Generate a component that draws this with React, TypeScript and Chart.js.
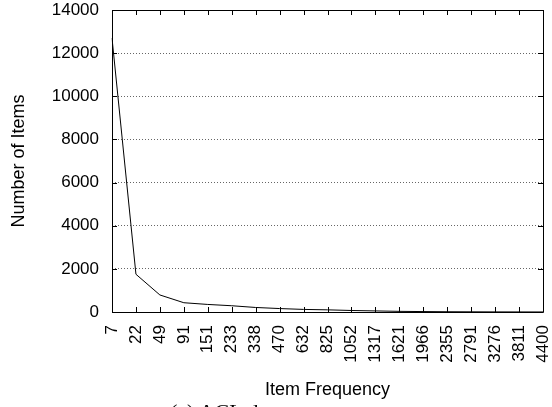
import React, { useEffect, useRef } from "react";
import { Chart, registerables } from "chart.js";

Chart.register(...registerables);

const categories = ["7", "22", "49", "91", "151", "233", "338", "470", "632", "825", "1052", "1317", "1621", "1966", "2355", "2791", "3276", "3811", "4400"];
const itemCounts = [12700, 1750, 790, 430, 350, 290, 210, 160, 120, 100, 70, 50, 30, 20, 12, 8, 5, 3, 2];
const yTicks = [0, 2000, 4000, 6000, 8000, 10000, 12000, 14000];
const xTitle = "Item Frequency";
const yTitle = "Number of Items";
const caption = "(a) ACL dataset";

const FONT = "'Liberation Sans', Arial, Helvetica, sans-serif";

const framePlugin = {
  id: "frame",
  afterDraw(chart: any) {
    const { ctx, chartArea } = chart;
    const { left, right, top, bottom } = chartArea;
    const xs = chart.scales.x;
    const ys = chart.scales.y;
    const len = 5;
    ctx.save();
    ctx.strokeStyle = "#000";
    ctx.lineWidth = 1;
    ctx.setLineDash([]);
    ctx.beginPath();
    ctx.rect(Math.round(left) + 0.5, Math.round(top) + 0.5, Math.round(right - left), Math.round(bottom - top));
    ctx.stroke();
    ctx.beginPath();
    for (let i = 0; i < categories.length; i++) {
      const x = Math.round(xs.getPixelForValue(i)) + 0.5;
      ctx.moveTo(x, bottom);
      ctx.lineTo(x, bottom - len);
      ctx.moveTo(x, top);
      ctx.lineTo(x, top + len);
    }
    for (const v of yTicks) {
      const y = Math.round(ys.getPixelForValue(v)) + 0.5;
      ctx.moveTo(left, y);
      ctx.lineTo(left + len, y);
      ctx.moveTo(right, y);
      ctx.lineTo(right - len, y);
    }
    ctx.stroke();
    ctx.restore();
  },
};

export default function App() {
  const ref = useRef<HTMLCanvasElement>(null);
  useEffect(() => {
    if (!ref.current) return;
    const chart = new Chart(ref.current, {
      type: "line",
      data: {
        labels: categories,
        datasets: [
          {
            data: itemCounts,
            borderColor: "#000",
            borderWidth: 1,
            pointRadius: 0,
            tension: 0,
            fill: false,
          },
        ],
      },
      options: {
        animation: false,
        responsive: false,
        devicePixelRatio: 1,
        layout: { padding: { top: 10, right: 9, left: 0, bottom: 0 } },
        plugins: { legend: { display: false }, tooltip: { enabled: false } },
        scales: {
          x: {
            type: "category",
            offset: false,
            grid: { display: false, drawTicks: false },
            border: { display: false },
            ticks: {
              color: "#000",
              font: { family: FONT, size: 17 },
              minRotation: 90,
              maxRotation: 90,
              padding: 13,
              autoSkip: false,
            },
            title: {
              display: true,
              text: xTitle,
              color: "#000",
              font: { family: FONT, size: 18 },
              padding: { top: 0, bottom: 6 },
            },
            afterFit(scale: any) {
              scale.height = 95;
              scale.paddingLeft = 0;
              scale.paddingRight = 0;
            },
          },
          y: {
            min: 0,
            max: 14000,
            afterBuildTicks(scale: any) {
              scale.ticks = yTicks.map((v) => ({ value: v }));
            },
            grid: {
              drawTicks: false,
              color: (c: any) => (c.tick && (c.tick.value === 0 || c.tick.value === 14000) ? "rgba(0,0,0,0)" : "#666"),
              lineWidth: 1,
            },
            border: { display: false, dash: [1, 2] },
            ticks: {
              color: "#000",
              font: { family: FONT, size: 17 },
              padding: 13,
              callback: (v: any) => String(v),
            },
            title: {
              display: true,
              text: yTitle,
              color: "#000",
              font: { family: FONT, size: 18 },
              padding: { top: 8, bottom: 0 },
            },
            afterFit(scale: any) {
              scale.width = 112;
              scale.paddingTop = 0;
              scale.paddingBottom = 0;
            },
          },
        },
      },
      plugins: [framePlugin],
    } as any);
    return () => chart.destroy();
  }, []);
  return (
    <div style={{ position: "fixed", left: 0, top: 0, width: 552, height: 407, overflow: "hidden", background: "#fff" }}>
      <canvas ref={ref} width={552} height={407} style={{ display: "block" }} />
      <div
        style={{
          position: "absolute",
          left: 170,
          top: 401,
          fontFamily: "'Liberation Serif', 'DejaVu Serif', serif",
          fontSize: 22,
          lineHeight: 1,
          whiteSpace: "nowrap",
        }}
      >
        {caption}
      </div>
    </div>
  );
}
